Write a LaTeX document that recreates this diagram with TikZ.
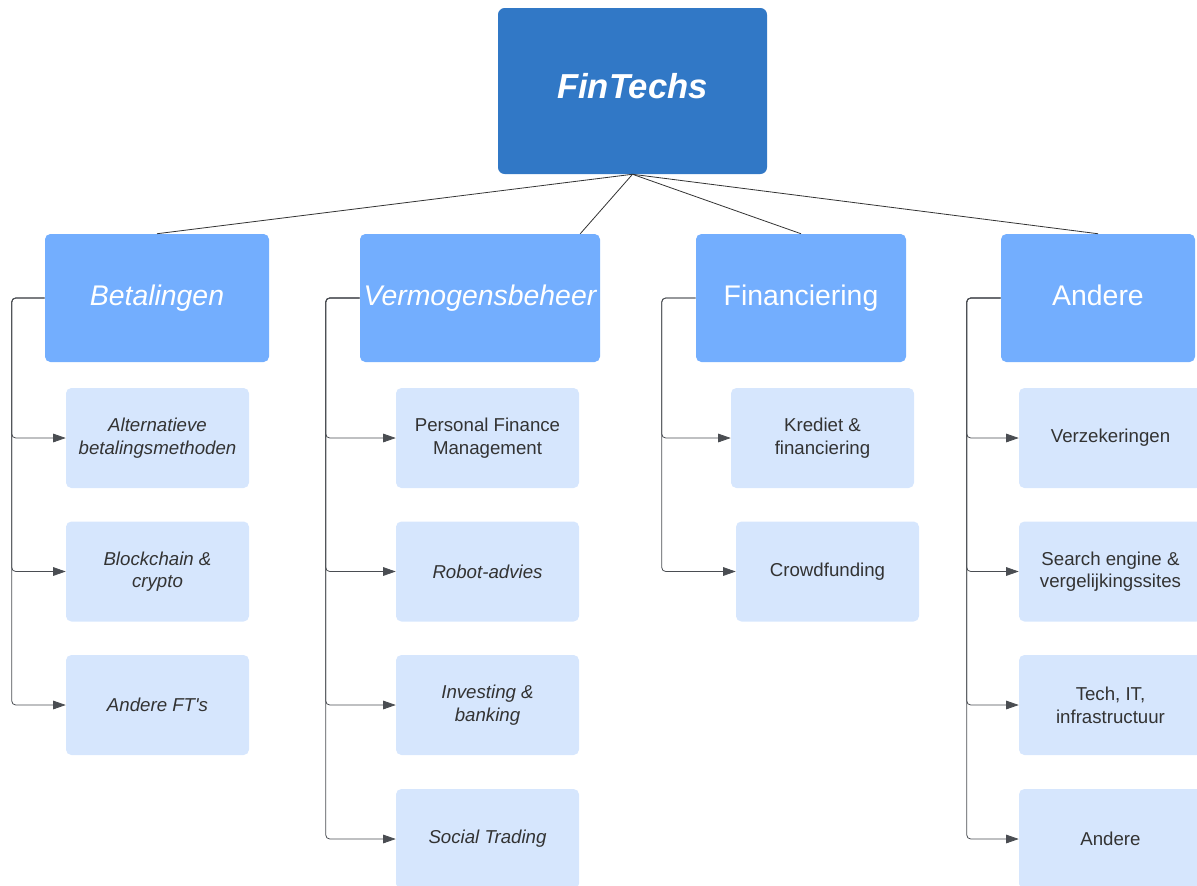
\documentclass[tikz,border=0pt]{standalone}
\usepackage{fontspec}
\setmainfont{Liberation Sans}
\usetikzlibrary{arrows.meta}

\definecolor{topblue}{HTML}{3178C6}
\definecolor{midblue}{HTML}{73AEFE}
\definecolor{lightblue}{HTML}{D6E6FD}
\definecolor{ink}{HTML}{333333}
\definecolor{wire}{HTML}{4A4D52}

\tikzset{
	root/.style={fill=topblue, text=white, rounded corners=5pt, inner sep=0pt,
		minimum width=201.75pt, minimum height=124.5pt, text height=19pt, text depth=7.5pt,
		font=\fontsize{26}{30}\selectfont\bfseries\itshape},
	branch/.style={fill=midblue, text=white, rounded corners=4pt, inner sep=0pt,
		minimum height=96pt, text height=15pt, text depth=4.5pt,
		font=\fontsize{21.3}{25}\selectfont},
	leaf/.style={fill=lightblue, text=ink, rounded corners=4pt, inner sep=0pt,
		minimum width=137.25pt, minimum height=75pt, align=center,
		font=\fontsize{14}{17}\selectfont},
	link/.style={draw=wire, line width=0.6pt, rounded corners=3pt,
		-{Triangle[length=9.5pt,width=6.5pt]}},
	tie/.style={draw=black!80, line width=0.6pt}
}

\begin{document}
\begin{tikzpicture}[x=0.75pt,y=-0.75pt]
	\useasboundingbox (0,0) rectangle (1197,886);
	%root
		\node[root] (fin) at (632.5,91) {FinTechs};
	%branches
		\node[branch, minimum width=168pt, font=\fontsize{21.3}{25}\selectfont\itshape] (bet) at (157,298) {Betalingen};
		\node[branch, minimum width=180pt, font=\fontsize{21.3}{25}\selectfont\itshape] (ver) at (480,298) {Vermogensbeheer};
		\node[branch, minimum width=157.5pt] (finan) at (801,298) {Financiering};
		\node[branch, minimum width=145.5pt] (andr) at (1098,298) {Andere};
	%root to branches
		\draw[tie] (fin.south) -- (bet.north);
		\draw[tie] (fin.south) -- ([xshift=-15pt]ver.north east);
		\draw[tie] (fin.south) -- (finan.north);
		\draw[tie] (fin.south) -- (andr.north);
	%betalingen
		\node[leaf, font=\fontsize{14}{17}\selectfont\itshape] (bet1) at (157.5,438) {Alternatieve\\betalingsmethoden};
		\node[leaf, font=\fontsize{14}{17}\selectfont\itshape] (bet2) at (157.5,571.5) {Blockchain \&\\crypto};
		\node[leaf, font=\fontsize{14}{17}\selectfont\itshape] (bet3) at (157.5,705) {Andere FT\textquotesingle s};
		\draw[link] (bet.west) -- ++(-33,0) |- (bet1.west);
		\draw[link] (bet.west) -- ++(-33,0) |- (bet2.west);
		\draw[link] (bet.west) -- ++(-33,0) |- (bet3.west);
	%vermogensbeheer
		\node[leaf] (ver1) at (487.5,438) {Personal Finance\\Management};
		\node[leaf, font=\fontsize{14}{17}\selectfont\itshape] (ver2) at (487.5,571.5) {Robot-advies};
		\node[leaf, font=\fontsize{14}{17}\selectfont\itshape] (ver3) at (487.5,705) {Investing \&\\banking};
		\node[leaf, font=\fontsize{14}{17}\selectfont\itshape] (ver4) at (487.5,839) {Social Trading};
		\draw[link] (ver.west) -- ++(-34,0) |- (ver1.west);
		\draw[link] (ver.west) -- ++(-34,0) |- (ver2.west);
		\draw[link] (ver.west) -- ++(-34,0) |- (ver3.west);
		\draw[link] (ver.west) -- ++(-34,0) |- (ver4.west);
	%financiering
		\node[leaf] (finan1) at (822.5,438) {Krediet \&\\financiering};
		\node[leaf] (finan2) at (827.5,571.5) {Crowdfunding};
		\draw[link] (finan.west) -- ++(-34,0) |- (finan1.west);
		\draw[link] (finan.west) -- ++(-34,0) |- (finan2.west);
	%andere
		\node[leaf] (andr1) at (1110.5,438) {Verzekeringen};
		\node[leaf] (andr2) at (1110.5,571.5) {Search engine \&\\vergelijkingssites};
		\node[leaf] (andr3) at (1110.5,705) {Tech, IT,\\infrastructuur};
		\node[leaf] (andr4) at (1110.5,839) {Andere};
		\draw[link] (andr.west) -- ++(-34,0) |- (andr1.west);
		\draw[link] (andr.west) -- ++(-34,0) |- (andr2.west);
		\draw[link] (andr.west) -- ++(-34,0) |- (andr3.west);
		\draw[link] (andr.west) -- ++(-34,0) |- (andr4.west);
\end{tikzpicture}
\end{document}
